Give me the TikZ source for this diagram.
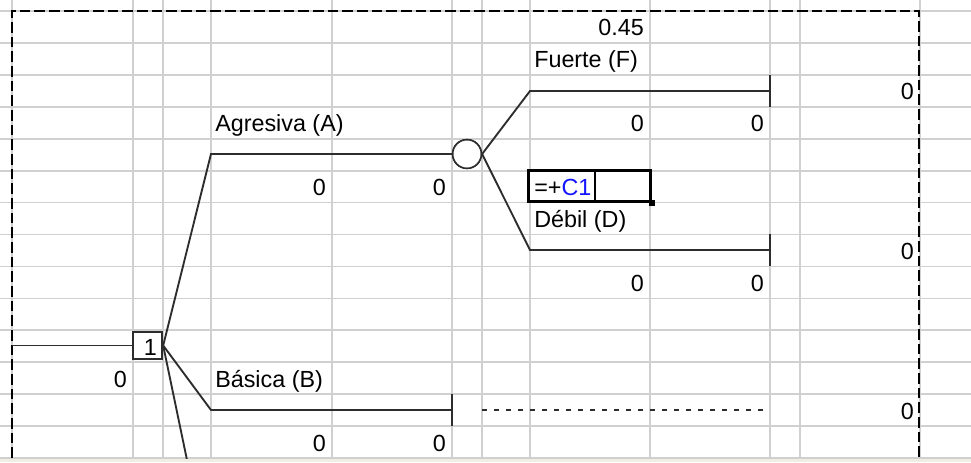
\documentclass[tikz,border=0pt]{standalone}
\usepackage{fontspec}
\setmainfont{Liberation Sans}
\definecolor{gridc}{RGB}{208,208,208}
\definecolor{treec}{RGB}{45,45,45}
\definecolor{bandc}{RGB}{240,237,226}
\definecolor{formblue}{RGB}{20,20,255}
\begin{document}
\begin{tikzpicture}[x=0.75pt,y=-0.75pt,
  gridline/.style={draw=gridc, line width=1.3pt},
  branch/.style={draw=treec, line width=1.4pt},
  stub/.style={draw=treec, line width=1.1pt, dash pattern=on 4pt off 5pt},
  printborder/.style={draw=black, line width=1.4pt, dash pattern=on 8pt off 3pt},
  lbl/.style={inner sep=0pt, anchor=base west, font=\fontsize{17.5}{20}\selectfont},
  num/.style={inner sep=0pt, anchor=base east, font=\fontsize{17.5}{20}\selectfont},
  decision/.style={draw=treec, fill=white, line width=1.4pt, minimum width=21.75pt, minimum height=20.25pt, inner sep=0pt},
  chance/.style={circle, draw=treec, fill=white, line width=1.2pt, minimum size=21.5pt, inner sep=0pt},
  selcell/.style={draw=black, fill=white, line width=2.2pt, minimum width=91.5pt, minimum height=23.25pt, inner sep=0pt}
]
\useasboundingbox (0,0) rectangle (971,462);
\fill[white] (0,0) rectangle (971,462);
% spreadsheet grid
\foreach \gx in {12,133,163,211,332,452,482,530,650,770,800,920}
  \draw[gridline] (\gx,0) -- (\gx,458);
\foreach \k in {0,...,14}
  \draw[gridline] (0,{11+31.93*\k}) -- (971,{11+31.93*\k});
% print-area border
\draw[printborder] (12,458) -- (12,11) -- (919,11) -- (919,458);

% coordinates of branch ends
\coordinate (root) at (12,345.5);
\coordinate (aS) at (211,154);
\coordinate (fS) at (530,91);
\coordinate (fE) at (770,91);
\coordinate (fT1) at (770,75);
\coordinate (fT2) at (770,107);
\coordinate (dS) at (530,250);
\coordinate (dE) at (770,250);
\coordinate (dT1) at (770,234);
\coordinate (dT2) at (770,266);
\coordinate (bS) at (211,410);
\coordinate (bE) at (452,410);
\coordinate (bT1) at (452,394);
\coordinate (bT2) at (452,426);
\coordinate (gS) at (482,410);
\coordinate (gE) at (764,410);
\coordinate (cOff) at (187,460);

% nodes
\node[decision] (d1) at (147.75,345.5) {};
\node[chance] (c1) at (467,154) {};

% branches
\draw[branch] (root) -- (d1.west);
\draw[branch] (d1.east) -- (aS) -- (c1.west);
\draw[branch] (d1.east) -- (bS) -- (bE);
\draw[branch] (bT1) -- (bT2);
\draw[branch] (d1.east) -- (cOff);
\draw[branch] (c1.east) -- (fS) -- (fE);
\draw[branch] (fT1) -- (fT2);
\draw[branch] (c1.east) -- (dS) -- (dE);
\draw[branch] (dT1) -- (dT2);
\draw[stub] (gS) -- (gE);
% redraw nodes on top of the lines
\node[decision] (d1b) at (147.75,345.5) {};
\node[chance] (c1b) at (467,154) {};

% selected cell being edited
\node[selcell] (sel) at (589.5,186) {};
\node[fill=black, minimum size=4.5pt, inner sep=0pt] (fh) at (sel.south east) {};
\coordinate (car1) at (595,172);
\coordinate (car2) at (595,200);
\draw[line width=0.8pt] (car1) -- (car2);

% texts
\node[num] (t045) at (644,35.9) {0.45};
\node[lbl] (tF) at (534,67.9) {Fuerte (F)};
\node[num] (tFv) at (914,99.8) {0};
\node[lbl] (tA) at (215,131.8) {Agresiva (A)};
\node[num] (tF1) at (644,131.8) {0};
\node[num] (tF2) at (764,131.8) {0};
\node[num] (tA1) at (326,195.6) {0};
\node[num] (tA2) at (446,195.6) {0};
\node[lbl] (formula) at (534,195.6) {=+\textcolor{formblue}{C1}};
\node[lbl] (tD) at (534,227.5) {Débil (D)};
\node[num] (tDv) at (914,259.4) {0};
\node[num] (tD1) at (644,291.4) {0};
\node[num] (tD2) at (764,291.4) {0};
\node[num] (t1) at (157,355.2) {1};
\node[num] (troot) at (127,387.1) {0};
\node[lbl] (tB) at (215,387.1) {Básica (B)};
\node[num] (tBv) at (914,419.1) {0};
\node[num] (tB1) at (326,451.0) {0};
\node[num] (tB2) at (446,451.0) {0};

% bottom window band
\fill[bandc] (0,459) rectangle (971,462);
\end{tikzpicture}
\end{document}
